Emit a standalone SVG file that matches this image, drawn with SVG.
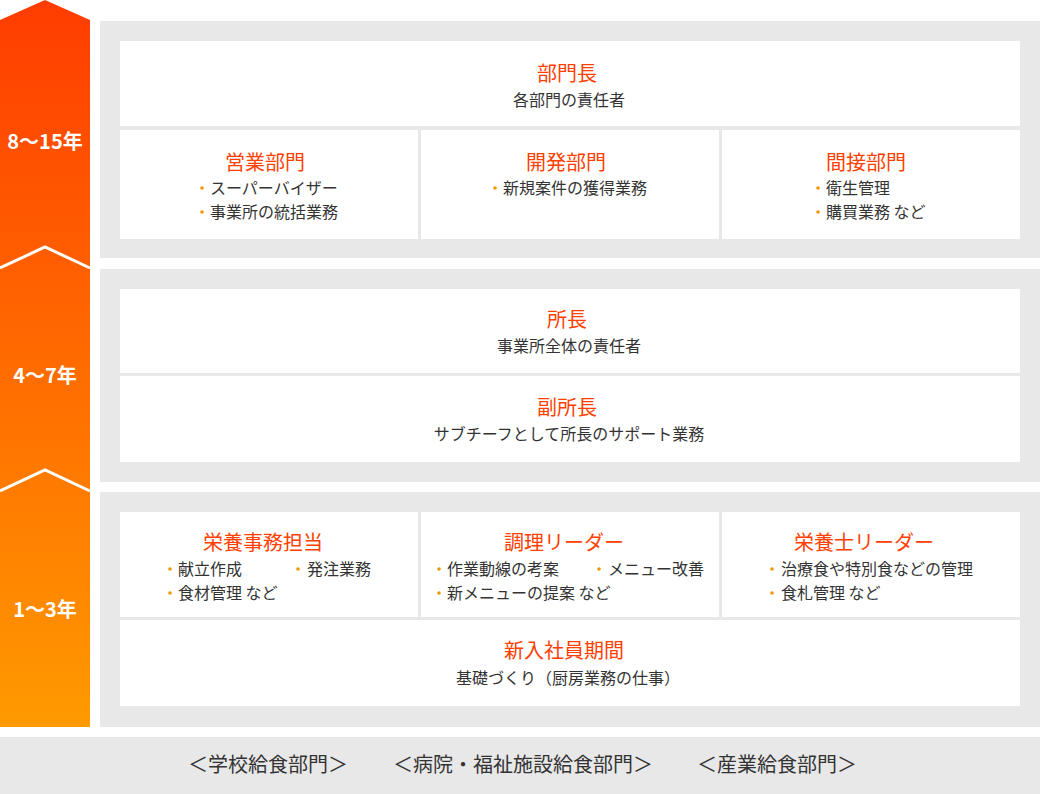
<svg xmlns="http://www.w3.org/2000/svg" width="1040" height="794" viewBox="0 0 1040 794">
<defs>
<linearGradient id="g" x1="0" y1="0" x2="0" y2="1">
<stop offset="0" stop-color="#FF3C00"/>
<stop offset="1" stop-color="#FF9A00"/>
</linearGradient>
<style>
.panel{fill:#E8E8E8}
.box{fill:#FFFFFF}
.t{font-family:"Noto Sans CJK JP","Noto Sans",sans-serif;font-size:20px;fill:#FF4000;text-anchor:middle}
.s{font-family:"Noto Sans CJK JP","Noto Sans",sans-serif;font-size:16px;fill:#333333;text-anchor:middle}
.b{font-family:"Noto Sans CJK JP","Noto Sans",sans-serif;font-size:16px;fill:#333333}
.d{fill:#F39800}
.y{font-family:"Noto Sans CJK JP","Noto Sans",sans-serif;font-size:20px;font-weight:bold;fill:#FFFFFF;text-anchor:middle}
.f{font-family:"Noto Sans CJK JP","Noto Sans",sans-serif;font-size:20px;fill:#333333}
.chev{fill:none;stroke:#FFFFFF;stroke-width:3}
</style>
</defs>
<rect width="1040" height="794" fill="#FFFFFF"/>

<g id="arrow">
<polygon points="45,0 90,20 90,727 0,727 0,20" fill="url(#g)"/>
<polyline class="chev" points="0,268 45,247 90,268"/>
<polyline class="chev" points="0,491 45,470 90,491"/>
<text class="y" x="45" y="149">8〜15年</text>
<text class="y" x="45" y="383">4〜7年</text>
<text class="y" x="45" y="617">1〜3年</text>
</g>

<g id="panels">
<rect class="panel" x="100" y="21" width="940" height="237"/>
<rect class="panel" x="100" y="269" width="940" height="213"/>
<rect class="panel" x="100" y="492" width="940" height="235"/>
<rect class="panel" x="0" y="737" width="1040" height="57"/>
</g>

<g id="n-bumoncho">
<rect class="box" x="120" y="41" width="900" height="85"/>
<text class="t" x="567" y="81">部門長</text>
<text class="s" x="569" y="106">各部門の責任者</text>
</g>

<g id="n-eigyo">
<rect class="box" x="120" y="130" width="298" height="109"/>
<text class="t" x="265" y="170">営業部門</text>
<circle class="d" cx="202" cy="188" r="1.8"/>
<text class="b" x="210" y="194">スーパーバイザー</text>
<circle class="d" cx="202" cy="212" r="1.8"/>
<text class="b" x="210" y="218">事業所の統括業務</text>
</g>

<g id="n-kaihatsu">
<rect class="box" x="421" y="130" width="298" height="109"/>
<text class="t" x="566" y="170">開発部門</text>
<circle class="d" cx="495" cy="188" r="1.8"/>
<text class="b" x="503" y="194">新規案件の獲得業務</text>
</g>

<g id="n-kansetsu">
<rect class="box" x="722" y="130" width="298" height="109"/>
<text class="t" x="866" y="170">間接部門</text>
<circle class="d" cx="818" cy="188" r="1.8"/>
<text class="b" x="826" y="194">衛生管理</text>
<circle class="d" cx="818" cy="212" r="1.8"/>
<text class="b" x="826" y="218">購買業務 など</text>
</g>

<g id="n-shocho">
<rect class="box" x="120" y="289" width="900" height="84"/>
<text class="t" x="567" y="327">所長</text>
<text class="s" x="569" y="352">事業所全体の責任者</text>
</g>

<g id="n-fukushocho">
<rect class="box" x="120" y="376" width="900" height="86"/>
<text class="t" x="567" y="415">副所長</text>
<text class="s" x="569" y="440">サブチーフとして所長のサポート業務</text>
</g>

<g id="n-eiyojimu">
<rect class="box" x="120" y="512" width="298" height="105"/>
<text class="t" x="263" y="550">栄養事務担当</text>
<circle class="d" cx="170" cy="569" r="1.8"/>
<text class="b" x="178" y="575">献立作成</text>
<circle class="d" cx="298" cy="569" r="1.8"/>
<text class="b" x="307" y="575">発注業務</text>
<circle class="d" cx="170" cy="593" r="1.8"/>
<text class="b" x="178" y="599">食材管理 など</text>
</g>

<g id="n-chori">
<rect class="box" x="421" y="512" width="298" height="105"/>
<text class="t" x="564" y="550">調理リーダー</text>
<circle class="d" cx="439" cy="569" r="1.8"/>
<text class="b" x="447" y="575">作業動線の考案</text>
<circle class="d" cx="599" cy="569" r="1.8"/>
<text class="b" x="608" y="575">メニュー改善</text>
<circle class="d" cx="439" cy="593" r="1.8"/>
<text class="b" x="447" y="599">新メニューの提案 など</text>
</g>

<g id="n-eiyoshi">
<rect class="box" x="722" y="512" width="298" height="105"/>
<text class="t" x="864" y="550">栄養士リーダー</text>
<circle class="d" cx="772" cy="569" r="1.8"/>
<text class="b" x="781" y="575">治療食や特別食などの管理</text>
<circle class="d" cx="772" cy="593" r="1.8"/>
<text class="b" x="781" y="599">食札管理 など</text>
</g>

<g id="n-shinnyu">
<rect class="box" x="120" y="620" width="900" height="86"/>
<text class="t" x="564" y="658">新入社員期間</text>
<text class="s" x="568" y="684">基礎づくり（厨房業務の仕事）</text>
</g>

<g id="footer">
<text class="f" x="188" y="772">＜学校給食部門＞</text>
<text class="f" x="393" y="772">＜病院・福祉施設給食部門＞</text>
<text class="f" x="697" y="772">＜産業給食部門＞</text>
</g>

<g id="connectors"></g>
</svg>
